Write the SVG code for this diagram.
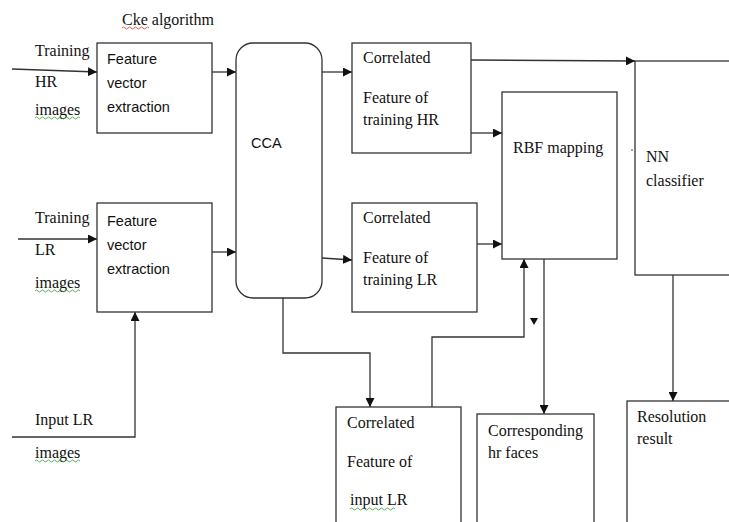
<svg xmlns="http://www.w3.org/2000/svg" width="729" height="522" viewBox="0 0 729 522">
<defs>
<style>
.box{fill:#fff;stroke:#333;stroke-width:1.3}
.ln{fill:none;stroke:#333;stroke-width:1.3}
.arr{fill:none;stroke:#333;stroke-width:1.3;marker-end:url(#ah)}
.s{font-family:"Liberation Serif","Times New Roman",serif;font-size:16px;fill:#111}
.ss{font-family:"Liberation Sans",Arial,sans-serif;font-size:14.5px;fill:#111}
.wr{fill:none;stroke:#e03030;stroke-width:0.8}
.wg{fill:none;stroke:#30a030;stroke-width:0.8}
</style>
<marker id="ah" viewBox="0 0 10 10" refX="10" refY="5" markerWidth="9" markerHeight="9" markerUnits="userSpaceOnUse" orient="auto">
<path d="M0,0 L10,5 L0,10 z" fill="#111"/>
</marker>
</defs>
<rect width="729" height="522" fill="#fff"/>

<g id="connectors">
<path class="arr" d="M12,69 L97,72"/>
<path class="arr" d="M212,72 L236,72"/>
<path class="arr" d="M18,239 L97,239"/>
<path class="arr" d="M212,252 L236,252"/>
<path class="arr" d="M322,72 L352,72"/>
<path class="arr" d="M322,258 L352,260"/>
<path class="arr" d="M471,60 L635,61"/>
<path class="arr" d="M471,133 L502,133"/>
<path class="arr" d="M477,244 L502,244"/>
<path class="arr" d="M12,437 L135,437 L135,312"/>
<path class="arr" d="M283,298 L283,353 L370,353 L370,407"/>
<path class="arr" d="M432,413 L432,337 L524,337 L524,259"/>
<path d="M530,318 L538,318 L534,325 z" fill="#111"/>
<path class="arr" d="M544,259 L544,414"/>
<path class="arr" d="M673,275 L673,401"/>
<circle cx="632" cy="150" r="0.8" fill="#333"/>
</g>

<g id="title"><text class="s" x="122" y="25">Cke algorithm</text>
<path class="wr" d="M122,28 q1.5,-2 3,0 t3,0 t3,0 t3,0 t3,0 t3,0 t3,0 t3,0 t3,0"/></g>

<g id="label-training-hr">
<text class="s" x="35" y="56">Training</text>
<text class="s" x="35" y="87">HR</text>
<text class="s" x="35" y="115">images</text>
<path class="wg" d="M35,118 q1.5,-2 3,0 t3,0 t3,0 t3,0 t3,0 t3,0 t3,0 t3,0 t3,0 t3,0 t3,0 t3,0 t3,0 t3,0 t3,0"/>
</g>
<g id="label-training-lr">
<text class="s" x="35" y="223">Training</text>
<text class="s" x="35" y="255">LR</text>
<text class="s" x="35" y="288">images</text>
<path class="wg" d="M35,291 q1.5,-2 3,0 t3,0 t3,0 t3,0 t3,0 t3,0 t3,0 t3,0 t3,0 t3,0 t3,0 t3,0 t3,0 t3,0 t3,0"/>
</g>
<g id="label-input-lr">
<text class="s" x="35" y="425">Input LR</text>
<text class="s" x="35" y="458">images</text>
<path class="wg" d="M35,461 q1.5,-2 3,0 t3,0 t3,0 t3,0 t3,0 t3,0 t3,0 t3,0 t3,0 t3,0 t3,0 t3,0 t3,0 t3,0 t3,0"/>
</g>

<g id="fve-hr">
<rect class="box" x="97" y="43" width="115" height="90"/>
<text class="ss" x="107" y="64">Feature</text>
<text class="ss" x="107" y="88">vector</text>
<text class="ss" x="107" y="112">extraction</text>
</g>
<g id="fve-lr">
<rect class="box" x="97" y="203" width="115" height="109"/>
<text class="ss" x="107" y="226">Feature</text>
<text class="ss" x="107" y="250">vector</text>
<text class="ss" x="107" y="274">extraction</text>
</g>
<g id="cca">
<rect class="box" x="236" y="43" width="86" height="255" rx="17" ry="17"/>
<text class="ss" x="251" y="148">CCA</text>
</g>
<g id="corr-hr">
<rect class="box" x="352" y="43" width="119" height="110"/>
<text class="s" x="363" y="63">Correlated</text>
<text class="s" x="363" y="103">Feature of</text>
<text class="s" x="363" y="125">training HR</text>
</g>
<g id="corr-lr">
<rect class="box" x="352" y="203" width="125" height="109"/>
<text class="s" x="363" y="223">Correlated</text>
<text class="s" x="363" y="263">Feature of</text>
<text class="s" x="363" y="285">training LR</text>
</g>
<g id="rbf">
<rect class="box" x="502" y="92" width="115" height="167"/>
<text class="s" x="513" y="153">RBF mapping</text>
</g>
<g id="nn">
<rect class="box" x="635" y="61" width="110" height="214"/>
<text class="s" x="646" y="162">NN</text>
<text class="s" x="646" y="186">classifier</text>
</g>
<g id="corr-input">
<rect class="box" x="336" y="407" width="125" height="125"/>
<text class="s" x="347" y="428">Correlated</text>
<text class="s" x="347" y="467">Feature of</text>
<text class="s" x="350" y="505">input LR</text>
<path class="wg" d="M350,509 q1.5,-2 3,0 t3,0 t3,0 t3,0 t3,0 t3,0 t3,0 t3,0 t3,0 t3,0 t3,0 t3,0 t3,0 t3,0 t3,0"/>
</g>
<g id="hr-faces">
<rect class="box" x="477" y="414" width="117" height="118"/>
<text class="s" x="488" y="436">Corresponding</text>
<text class="s" x="488" y="458">hr faces</text>
</g>
<g id="result">
<rect class="box" x="627" y="401" width="115" height="131"/>
<text class="s" x="637" y="422">Resolution</text>
<text class="s" x="637" y="444">result</text>
</g>
</svg>
